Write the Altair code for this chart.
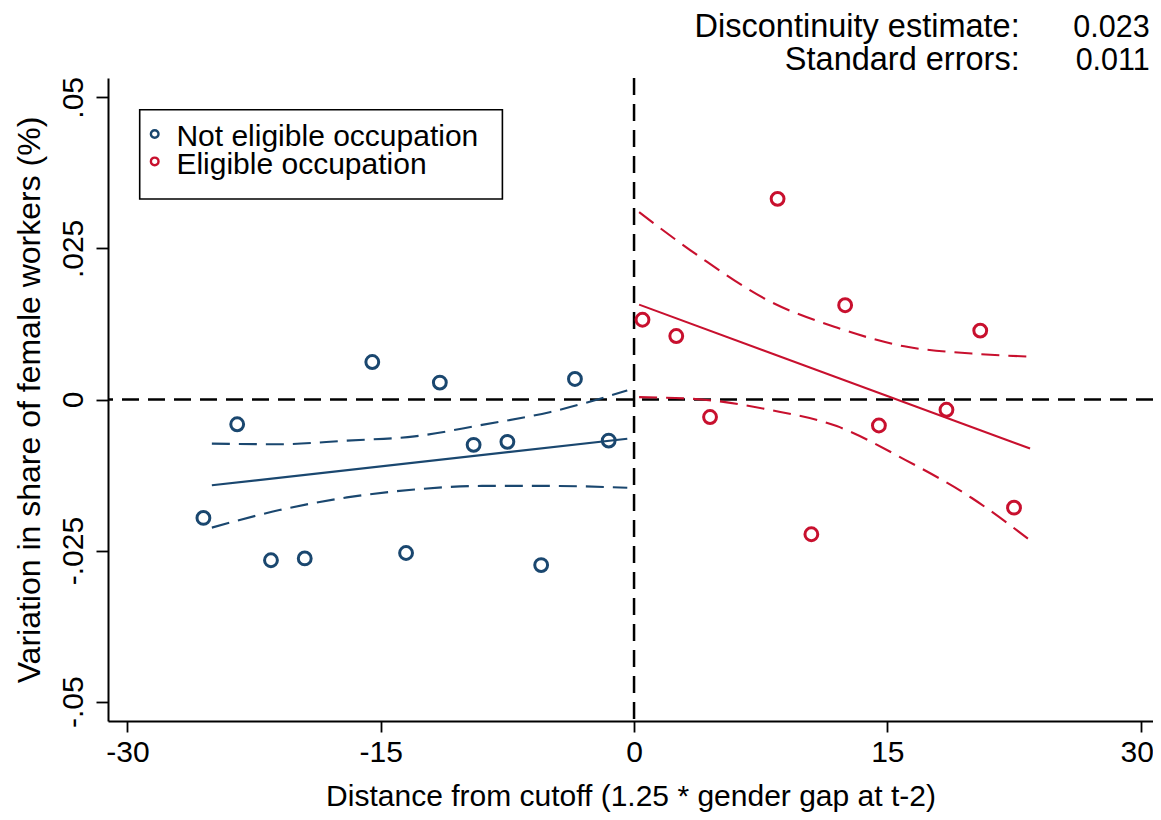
import altair as alt
import pandas as pd

FONT = "Liberation Sans"

groups = ["Not eligible occupation", "Eligible occupation"]
colors = ["#1a476f", "#c8102e"]

# binned scatter (distance from cutoff, variation in share)
blue_x = [-25.5, -23.5, -21.5, -19.5, -15.5, -13.5, -11.5, -9.5, -7.5, -5.5, -3.5, -1.5]
blue_y = [-0.0196, -0.0041, -0.0266, -0.0263, 0.0062, -0.0254, 0.0028, -0.0075, -0.0070, -0.0274, 0.0034, -0.0068]
red_x = [0.5, 2.5, 4.5, 8.5, 10.5, 12.5, 14.5, 18.5, 20.5, 22.5]
red_y = [0.0132, 0.0105, -0.0029, 0.0332, -0.0223, 0.0156, -0.0043, -0.0017, 0.0114, -0.0179]

# linear fits
blue_fit_x = [-25.0, -0.4]
blue_fit_y = [-0.0142, -0.0065]
red_fit_x = [0.3, 23.45]
red_fit_y = [0.0157, -0.0081]

# confidence bands
blue_ci_x = [-25.0, -21.0, -17.0, -13.0, -9.0, -5.0, -0.4]
blue_ci_hi = [-0.0073, -0.0074, -0.0068, -0.0061, -0.0042, -0.0021, 0.0015]
blue_ci_lo = [-0.0212, -0.0183, -0.0162, -0.0149, -0.0143, -0.0143, -0.0146]
red_ci_x = [0.3, 4.0, 8.0, 12.0, 16.0, 20.0, 23.45]
red_ci_hi = [0.0310, 0.0234, 0.0163, 0.0119, 0.0088, 0.0076, 0.0071]
red_ci_lo = [0.0004, 0.0000, -0.0017, -0.0044, -0.0099, -0.0163, -0.0233]

x_ticks = [-30, -15, 0, 15, 30]
x_tick_labels = ["-30", "-15", "0", "15", "30"]
y_ticks = [-0.05, -0.025, 0, 0.025, 0.05]
y_tick_labels = ["-.05", "-.025", "0", ".025", ".05"]

annot_labels = ["Discontinuity estimate:", "Standard errors:"]
annot_values = ["0.023", "0.011"]

x_title = "Distance from cutoff (1.25 * gender gap at t-2)"
y_title = "Variation in share of female workers (%)"


def label_expr(values, labels):
    expr = "''"
    for v, l in reversed(list(zip(values, labels))):
        expr = f"abs(datum.value - ({v})) < 1e-9 ? '{l}' : ({expr})"
    return expr


points = pd.concat([
    pd.DataFrame({"x": blue_x, "y": blue_y, "group": groups[0]}),
    pd.DataFrame({"x": red_x, "y": red_y, "group": groups[1]}),
])
fits = pd.concat([
    pd.DataFrame({"x": blue_fit_x, "y": blue_fit_y, "group": groups[0]}),
    pd.DataFrame({"x": red_fit_x, "y": red_fit_y, "group": groups[1]}),
])
cis = pd.concat([
    pd.DataFrame({"x": blue_ci_x, "y": blue_ci_hi, "group": groups[0], "band": "b_hi"}),
    pd.DataFrame({"x": blue_ci_x, "y": blue_ci_lo, "group": groups[0], "band": "b_lo"}),
    pd.DataFrame({"x": red_ci_x, "y": red_ci_hi, "group": groups[1], "band": "r_hi"}),
    pd.DataFrame({"x": red_ci_x, "y": red_ci_lo, "group": groups[1], "band": "r_lo"}),
])

xs = alt.Scale(domain=[-31.15, 30.73], nice=False, zero=False)
ys = alt.Scale(domain=[-0.0532, 0.0532], nice=False, zero=False)
cs = alt.Scale(domain=groups, range=colors)

x_axis = alt.Axis(values=x_ticks, labelExpr=label_expr(x_ticks, x_tick_labels), title=x_title,
                  grid=False, labelPadding=5, titlePadding=14, tickSize=11,
                  labelOffset={"condition": {"test": f"datum.value >= {x_ticks[-1]}", "value": -4}, "value": 0})
y_axis = alt.Axis(values=y_ticks, labelExpr=label_expr(y_ticks, y_tick_labels), title=y_title,
                  grid=False, labelAngle=270, labelAlign="center", labelBaseline="bottom",
                  labelPadding=8, titlePadding=12, tickSize=12, titleFontSize=32)

X = alt.X("x:Q", scale=xs, axis=x_axis)
Y = alt.Y("y:Q", scale=ys, axis=y_axis)
C = alt.Color("group:N", scale=cs, legend=None)

ci_layer = alt.Chart(cis).mark_line(strokeWidth=2.1, strokeDash=[18, 9], interpolate="monotone").encode(
    x=X, y=Y, color=C, detail="band:N")
fit_layer = alt.Chart(fits).mark_line(strokeWidth=2.1).encode(x=X, y=Y, color=C)
pt_layer = alt.Chart(points).mark_point(shape="circle", filled=False, size=165, strokeWidth=3, opacity=1).encode(
    x=X, y=Y, color=C)

zero_df = pd.DataFrame({"v": [0]})
vline = alt.Chart(zero_df).mark_rule(color="black", strokeWidth=2.5, strokeDash=[17, 9]).encode(
    x=alt.X("v:Q", scale=xs, axis=x_axis))
hline = alt.Chart(zero_df).mark_rule(color="black", strokeWidth=2.5, strokeDash=[17, 9]).encode(
    y=alt.Y("v:Q", scale=ys, axis=y_axis))

# legend box (drawn inside plot area, top-left)
legend_box = alt.Chart(zero_df).mark_rect(fill="white", stroke="black", strokeWidth=1.6).encode(
    x=alt.value(31.7), x2=alt.value(394.4), y=alt.value(31.7), y2=alt.value(121))
legend_layers = [legend_box]
row_sym_y = [56.0, 83.4]
row_txt_y = [68.4, 95.7]
for g, col, sy, ty in zip(groups, colors, row_sym_y, row_txt_y):
    legend_layers.append(
        alt.Chart(zero_df).mark_point(shape="circle", filled=False, size=58, strokeWidth=2.4,
                                      color=col, opacity=1).encode(
            x=alt.value(46.7), y=alt.value(sy)))
    legend_layers.append(
        alt.Chart(zero_df).mark_text(text=g, font=FONT, fontSize=30, align="left",
                                     baseline="alphabetic", color="black").encode(
            x=alt.value(68.4), y=alt.value(ty)))

annot_layers = []
for lab, val, ty in zip(annot_labels, annot_values, [-41.0, -8.5]):
    annot_layers.append(
        alt.Chart(zero_df).mark_text(text=lab, font=FONT, fontSize=32.5, align="right",
                                     baseline="alphabetic", color="black").encode(
            x=alt.value(911.7), y=alt.value(ty)))
    annot_layers.append(
        alt.Chart(zero_df).mark_text(text=val, font=FONT, fontSize=30.5, align="right",
                                     baseline="alphabetic", color="black").encode(
            x=alt.value(1041.7), y=alt.value(ty)))

chart = alt.layer(
    vline, hline, ci_layer, fit_layer, pt_layer, *legend_layers, *annot_layers
).properties(
    width=1045, height=643,
    autosize=alt.AutoSizeParams(type="none"),
    padding={"left": 100, "top": 70, "right": 0, "bottom": 91},
    background="white",
).configure_view(stroke=None).configure_axis(
    domainColor="black", domainWidth=2, tickColor="black", tickWidth=1.8,
    labelFont=FONT, titleFont=FONT, labelFontSize=30, titleFontSize=30,
    labelColor="black", titleColor="black", titleFontWeight="normal",
)

chart.save("out.html", embed_options={"renderer": "svg", "actions": False})
